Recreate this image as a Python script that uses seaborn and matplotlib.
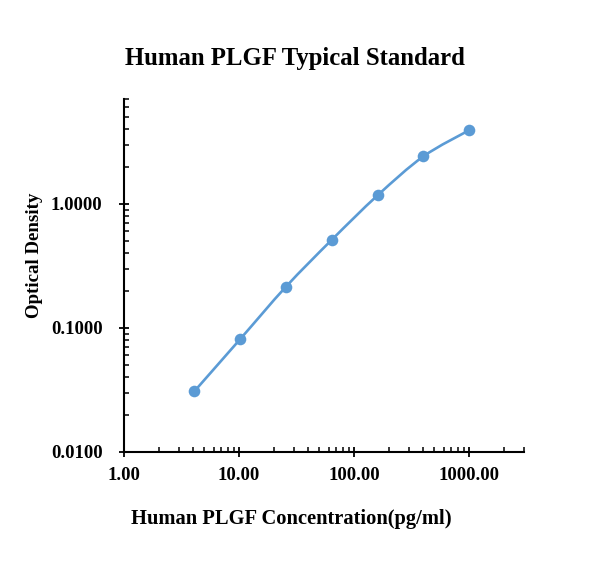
import numpy as np
import pandas as pd

import seaborn as sns
import matplotlib
matplotlib.use("Agg")
import matplotlib.pyplot as plt
from matplotlib.path import Path
from matplotlib.patches import PathPatch
from matplotlib.ticker import LogLocator, FixedLocator, FuncFormatter

# datos de la curva estándar
concentracion = [4.096, 10.24, 25.6, 64, 160, 400, 1000]
densidad = [0.0309, 0.0813, 0.215, 0.513, 1.17, 2.41, 3.92]

x_ticks = [1, 10, 100, 1000]
y_ticks = [0.01, 0.1, 1]

titulo = "Human PLGF Typical Standard"
x_label = "Human PLGF Concentration(pg/ml)"
y_label = "Optical Density"

azul = "#5B9BD5"

df = pd.DataFrame({"conc": concentracion, "od": densidad})

sns.set_style("white")
plt.rcParams["font.family"] = ["Liberation Serif", "DejaVu Serif"]
plt.rcParams["font.weight"] = "bold"
plt.rcParams["text.color"] = "black"
plt.rcParams["axes.labelcolor"] = "black"
plt.rcParams["xtick.color"] = "black"
plt.rcParams["ytick.color"] = "black"

fig = plt.figure(figsize=(6.16, 5.67), dpi=100)
ax = fig.add_axes([124 / 616, 1 - 452 / 567, 400 / 616, 353 / 567])

ax.set_xscale("log")
ax.set_yscale("log")


def curva_suave(xs, ys):
    # línea suavizada tipo Excel (Bezier en espacio log)
    lx, ly = np.log10(xs), np.log10(ys)
    pts = np.column_stack([lx, ly])
    n = len(pts)
    verts = [pts[0]]
    codes = [Path.MOVETO]
    for i in range(n - 1):
        p0 = pts[max(i - 1, 0)]
        p1 = pts[i]
        p2 = pts[i + 1]
        p3 = pts[min(i + 2, n - 1)]
        c1 = p1 + (p2 - p0) / 6
        c2 = p2 - (p3 - p1) / 6
        verts += [c1, c2, p2]
        codes += [Path.CURVE4] * 3
    verts = 10 ** np.array(verts)
    return Path(verts, codes)


ax.add_patch(PathPatch(curva_suave(df["conc"].values, df["od"].values),
                       facecolor="none", edgecolor=azul, lw=1.9,
                       capstyle="round", zorder=2))

sns.scatterplot(data=df, x="conc", y="od", color=azul, s=70,
                edgecolor=azul, linewidth=0, zorder=3, ax=ax)

ax.set_xlim(1, 3000)
ax.set_ylim(0.01, 7)

ax.xaxis.set_major_locator(FixedLocator(x_ticks))
ax.yaxis.set_major_locator(FixedLocator(y_ticks))
ax.xaxis.set_minor_locator(LogLocator(base=10, subs=np.arange(2, 10), numticks=20))
ax.yaxis.set_minor_locator(LogLocator(base=10, subs=np.arange(2, 10), numticks=20))
ax.xaxis.set_major_formatter(FuncFormatter(lambda v, p: f"{v:.2f}"))
ax.yaxis.set_major_formatter(FuncFormatter(lambda v, p: f"{v:.4f}"))
ax.xaxis.set_minor_formatter(FuncFormatter(lambda v, p: ""))
ax.yaxis.set_minor_formatter(FuncFormatter(lambda v, p: ""))

for lado in ["top", "right"]:
    ax.spines[lado].set_visible(False)
for lado in ["left", "bottom"]:
    ax.spines[lado].set_color("black")
    ax.spines[lado].set_linewidth(1.5)

ax.tick_params(which="both", bottom=True, left=True, top=False, right=False)
ax.tick_params(which="major", direction="inout", length=7, width=1.3,
               color="black", labelsize=13.5)
ax.tick_params(axis="x", which="major", pad=7)
ax.tick_params(axis="y", which="major", pad=12)
ax.tick_params(which="minor", direction="in", length=3.5, width=1.1,
               color="black")
for lbl in ax.get_xticklabels() + ax.get_yticklabels():
    lbl.set_fontweight("bold")

ax.set_xlabel(x_label, fontsize=14.8, fontweight="bold")
ax.set_ylabel(y_label, fontsize=13.6, fontweight="bold")
ax.xaxis.set_label_coords((291 - 124) / 400, (452 - 509) / 353)
ax.yaxis.set_label_coords((43 - 124) / 400, (452 - 255) / 353)
ax.grid(False)

fig.text(295 / 616, 1 - 58 / 567, titulo, ha="center", va="center",
         fontsize=17.8, fontweight="bold")

plt.savefig("out.png", dpi=100)
